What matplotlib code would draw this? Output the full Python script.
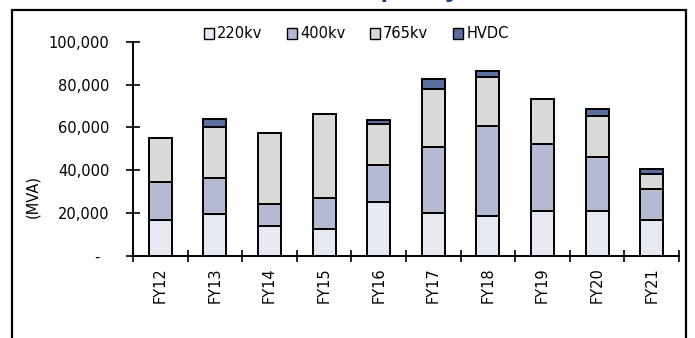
import matplotlib
matplotlib.use("Agg")
import matplotlib.pyplot as plt
from matplotlib.patches import Rectangle, Patch
from matplotlib.ticker import FuncFormatter, FixedLocator
import numpy as np

categories = ["FY12", "FY13", "FY14", "FY15", "FY16", "FY17", "FY18", "FY19", "FY20", "FY21"]
kv220 = [16800, 19400, 14100, 12600, 25300, 20200, 18700, 21200, 21200, 16800]
kv400 = [17600, 17100, 10000, 14600, 17200, 30800, 42000, 31100, 25100, 14500]
kv765 = [20500, 23800, 33400, 38900, 18900, 26900, 23000, 21000, 19000, 7000]
hvdc = [0, 3800, 0, 0, 2200, 4700, 2800, 0, 3400, 2100]
series_names = ["220kv", "400kv", "765kv", "HVDC"]
y_ticks = [0, 20000, 40000, 60000, 80000, 100000]
title = "Transformation capacity"

colors = ["#E6E9F1", "#B4BAD2", "#D9D9D9", "#5A6F9E"]

plt.rcParams['font.family'] = ['DejaVu Sans']
FS = 10.5

W, H = 695, 338
fig = plt.figure(figsize=(W / 100, H / 100), dpi=100)
ax = fig.add_axes([133 / W, 1 - 256 / H, (679 - 133) / W, (256 - 41.7) / H])

x = np.arange(len(categories))
bottom = np.zeros(len(categories))
handles = []
for vals, col, name in zip([kv220, kv400, kv765, hvdc], colors, series_names):
    v = np.array(vals, dtype=float)
    ax.bar(x, v, bottom=bottom, width=0.42, color=col, edgecolor="black",
           linewidth=1.4, zorder=3)
    bottom += v
    handles.append(Patch(facecolor=col, edgecolor="black", linewidth=1.0, label=name))

ax.set_xlim(-0.5, len(categories) - 0.5)
ax.set_ylim(0, 100000)

for s in ["top", "right"]:
    ax.spines[s].set_visible(False)
for s in ["left", "bottom"]:
    ax.spines[s].set_linewidth(1.4)
    ax.spines[s].set_color("black")

ax.set_yticks(y_ticks)
ax.yaxis.set_major_formatter(FuncFormatter(lambda v, p: "-  " if v == 0 else f"{int(v):,}"))
ax.tick_params(axis="y", direction="inout", length=10, width=1.2, labelsize=FS, pad=12)

ax.set_xticks(x)
ax.set_xticklabels(categories, rotation=90, fontsize=FS)
ax.tick_params(axis="x", which="major", length=0, pad=8)
ax.xaxis.set_minor_locator(FixedLocator(np.arange(-0.5, len(categories), 1.0)))
ax.tick_params(axis="x", which="minor", direction="inout", length=9, width=1.2)

fig.text(33 / W, 1 - 197 / H, "(MVA)", rotation=90, ha="center", va="center", fontsize=FS)

fig.legend(handles=handles, loc="center", bbox_to_anchor=(356 / W, 1 - 34 / H),
           ncol=4, frameon=False, fontsize=FS, handlelength=0.7, handleheight=0.7,
           handletextpad=0.2, columnspacing=1.7, borderaxespad=0)

fig.patches.append(Rectangle((12 / W, -0.05), (686 - 12) / W, 1.05 - 9.5 / H,
                             transform=fig.transFigure, fill=False, edgecolor="black",
                             linewidth=1.6, clip_on=False))

fig.text(461 / W, 1 + 3.5 / H, title, ha="right", va="baseline", fontsize=20,
         fontweight="bold", color="#1F3C88", family="Liberation Sans")

fig.savefig("out.png", dpi=100)
